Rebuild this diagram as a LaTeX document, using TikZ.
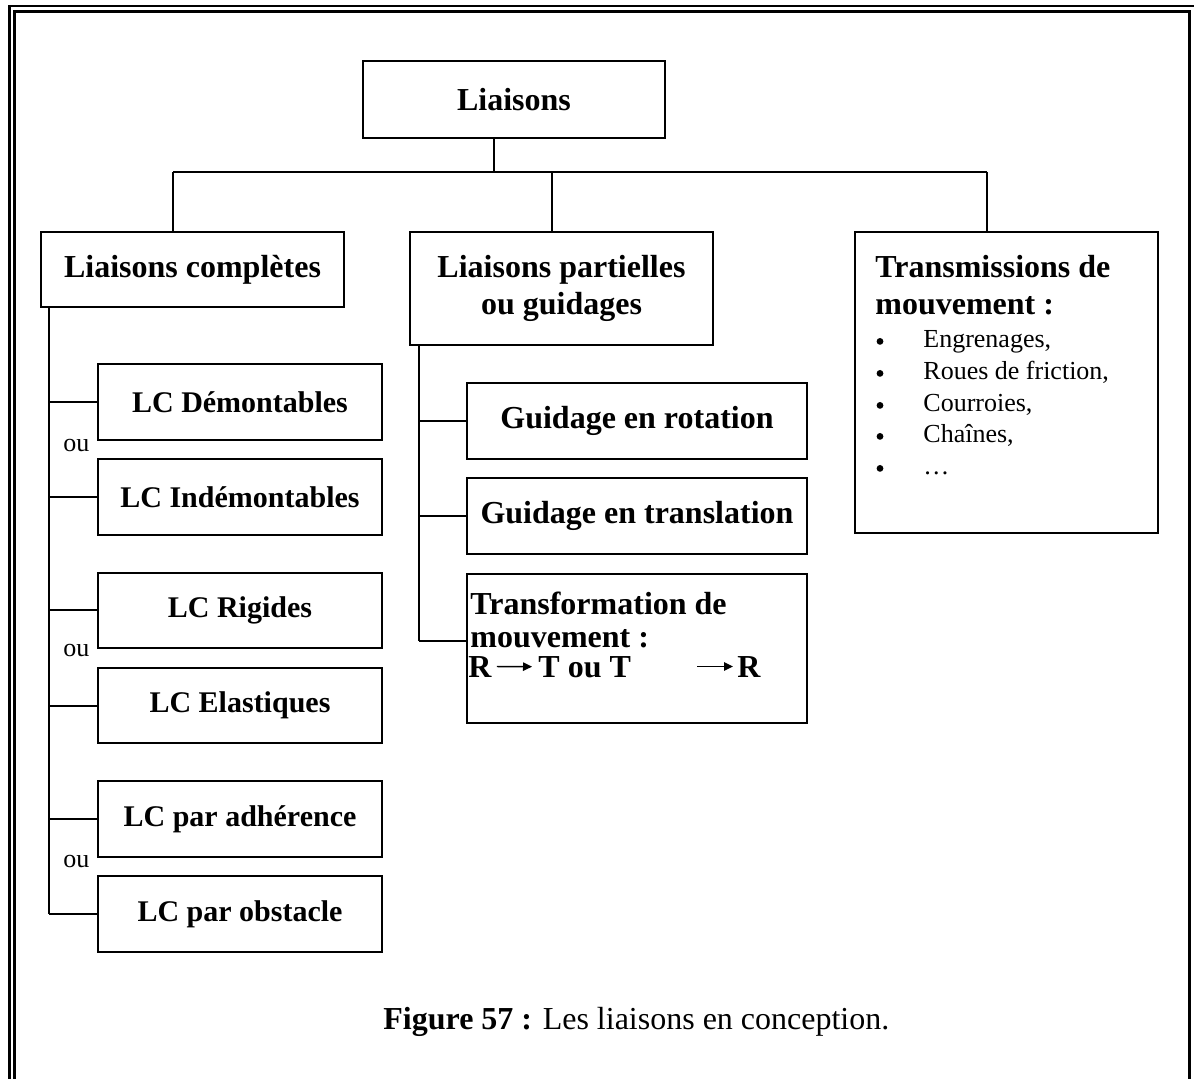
\documentclass[tikz,border=0pt]{standalone}
\usepackage{fontspec}
\setmainfont{Liberation Serif}
\usetikzlibrary{arrows.meta}
\begin{document}
\begin{tikzpicture}[x=0.5pt,y=-0.5pt,
  box/.style={draw, line width=1pt, inner sep=0pt, align=center},
  big/.style={font=\bfseries\fontsize{16}{18.5}\selectfont},
  sub/.style={font=\bfseries\fontsize{15}{18}\selectfont},
  small/.style={font=\fontsize{13}{15}\selectfont},
  wh/.style 2 args={minimum width=#1*0.5pt, minimum height=#2*0.5pt},
  link/.style={line width=1pt},
  frame/.style={line width=1.25pt},
  arr/.style={line width=0.7pt, -{Triangle[length=4.5pt,width=4.2pt]}},
  txt/.style={inner sep=0pt}
]
\useasboundingbox (0,0) rectangle (1194,1079);

% page frame (double rule)
\draw[frame] (9.5,1079) -- (9.5,6) -- (1194,6);
\draw[frame] (14.5,1079) -- (14.5,11.5) -- (1189.5,11.5) -- (1189.5,1079);

% top level
\node[box,big,wh={302}{77},anchor=north west] (root) at (362,60) {Liaisons};
\node[box,big,wh={303}{75},anchor=north west] (lc) at (40,231) {Liaisons complètes};
\node[box,big,wh={303}{113},anchor=north west] (lp) at (409,231) {Liaisons partielles\\ou guidages};
\node[box,wh={303}{301},anchor=north west] (tm) at (854,231) {};

% bus between the levels
\coordinate (bus) at (494,172);
\coordinate (dl) at (173,172);
\coordinate (dm) at (552,172);
\coordinate (dr) at (987,172);
\draw[link] (root.south -| bus) -- (bus);
\draw[link] (dl) -- (dr);
\draw[link] (dl) -- (dl |- lc.north);
\draw[link] (dm) -- (dm |- lp.north);
\draw[link] (dr) -- (dr |- tm.north);

% complete links
\node[box,sub,wh={284}{76},anchor=north west] (dem) at (97,363) {LC Démontables};
\node[box,sub,wh={284}{76},anchor=north west] (ind) at (97,458) {LC Indémontables};
\node[box,sub,wh={284}{75},anchor=north west] (rig) at (97,572) {LC Rigides};
\node[box,sub,wh={284}{75},anchor=north west] (ela) at (97,667) {LC Elastiques};
\node[box,sub,wh={284}{76},anchor=north west] (adh) at (97,780) {LC par adhérence};
\node[box,sub,wh={284}{76},anchor=north west] (obs) at (97,875) {LC par obstacle};

\coordinate (tl) at (48.5,0);
\draw[link] (tl |- lc.south) -- (tl |- obs.west);
\foreach \b in {dem,ind,rig,ela,adh,obs}
  \draw[link] (tl |- \b.west) -- (\b.west);

\node[txt,small,anchor=base west] (ou1) at (63,452) {ou};
\node[txt,small,anchor=base west] (ou2) at (63,656) {ou};
\node[txt,small,anchor=base west] (ou3) at (63,867) {ou};

% partial links / guiding
\node[box,big,wh={340}{76},anchor=north west] (rot) at (466,382) {Guidage en rotation};
\node[box,big,wh={340}{76},anchor=north west] (tra) at (466,477) {Guidage en translation};
\node[box,wh={340}{149},anchor=north west] (tf) at (466,573) {};
\coordinate (tfc) at ([yshift=3.5pt]tf.west);

\coordinate (mt) at (419,0);
\draw[link] (mt |- lp.south) -- (mt |- tfc);
\draw[link] (mt |- rot.west) -- (rot.west);
\draw[link] (mt |- tra.west) -- (tra.west);
\draw[link] (mt |- tfc) -- (tfc);

\node[txt,big,anchor=base west] (tf1) at (470,615) {Transformation de};
\node[txt,big,anchor=base west] (tf2) at (470,647) {mouvement :};
\node[txt,big,anchor=base west] (r1) at (468,677) {R};
\node[txt,big,anchor=base west] (t1) at (538,677) {T ou T};
\node[txt,big,anchor=base west] (r2) at (737,677) {R};
\draw[arr, shorten <=2.5pt, shorten >=3pt] (r1.east) -- (t1.west);
\draw[arr, shorten >=2pt] ([xshift=-20pt]r2.west) -- (r2.west);

% transmissions of movement
\node[txt,big,anchor=base west] (tm1) at (875,278) {Transmissions de};
\node[txt,big,anchor=base west] (tm2) at (875,315) {mouvement :};
\node[txt,small,anchor=base west] (it1) at (923,348) {Engrenages,};
\node[txt,small,anchor=base west] (it2) at (923,380) {Roues de friction,};
\node[txt,small,anchor=base west] (it3) at (923,412) {Courroies,};
\node[txt,small,anchor=base west] (it4) at (923,443) {Chaînes,};
\node[txt,small,anchor=base west] (it5) at (923,475) {…};
% list bullets
\foreach \i in {1,...,5}
  \fill ([xshift=-21.5pt,yshift=3.3pt]it\i.base west) circle (1.7pt);

% caption
\node[txt,font=\fontsize{16}{19}\selectfont,anchor=base west] (cap) at (383,1029)
  {\textbf{Figure 57 :} Les liaisons en conception.};
\end{tikzpicture}
\end{document}
